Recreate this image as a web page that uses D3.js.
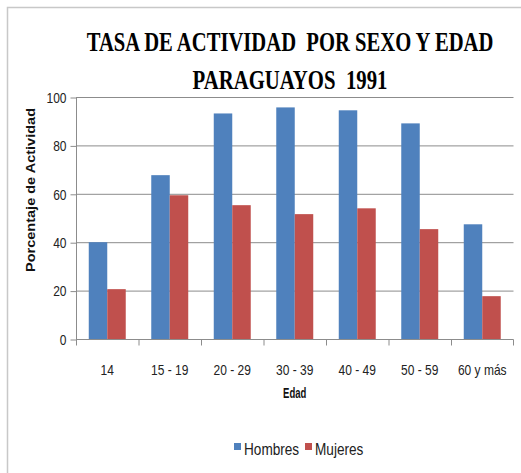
<!DOCTYPE html>
<html>
<head>
<meta charset="utf-8">
<script src="https://cdn.jsdelivr.net/npm/d3@7"></script>
<style>
  body { margin: 0; background: #fff; }
  svg { display: block; }
  text { font-family: "Liberation Sans", Arial, sans-serif; }
  .title { font-family: "Liberation Serif", "Times New Roman", serif; white-space: pre; }
</style>
</head>
<body>
<div id="chart"></div>
<script>
(function(){

  var categories = ['14', '15 - 19', '20 - 29', '30 - 39', '40 - 49', '50 - 59', '60 y más'];
  var hombres = [40.0, 67.7, 93.2, 95.7, 94.5, 89.1, 47.4];
  var mujeres = [20.6, 59.4, 55.3, 51.6, 54.0, 45.4, 17.7];
  var seriesNames = ['Hombres', 'Mujeres'];
  var yTicks = [0, 20, 40, 60, 80, 100];

  var colors = ['#4F81BD', '#C0504D'];
  var width = 521, height = 473;
  var plot = {left: 76, right: 513.5, top: 97, bottom: 339};

  // squeeze text horizontally, the source used a narrow font
  function condense(sel, factor) {
    sel.each(function() {
      var w = this.getComputedTextLength();
      d3.select(this)
        .attr('textLength', w * factor)
        .attr('lengthAdjust', 'spacingAndGlyphs');
    });
  }

  var svg = d3.select('#chart')
    .append('svg')
    .attr('width', width)
    .attr('height', height);

  // chart frame (only top and left visible)
  svg.append('rect')
    .attr('x', 7.5).attr('y', 7.5)
    .attr('width', 600).attr('height', 600)
    .attr('fill', 'none')
    .attr('stroke', '#c8c8c8')
    .attr('stroke-width', 1.5);

  var x0 = d3.scaleBand()
    .domain(categories)
    .range([plot.left, plot.right]);

  var x1 = d3.scaleBand()
    .domain(seriesNames)
    .range([0, x0.bandwidth()])
    .paddingInner(0)
    .paddingOuter(0.69);

  var y = d3.scaleLinear()
    .domain([0, 100])
    .range([plot.bottom, plot.top]);

  // gridlines
  svg.append('g')
    .selectAll('line')
    .data(yTicks.filter(function(d) {return d > 0;}))
    .enter()
    .append('line')
    .attr('x1', plot.left)
    .attr('x2', plot.right)
    .attr('y1', function(d) {return y(d) + 0.5;})
    .attr('y2', function(d) {return y(d) + 0.5;})
    .attr('stroke', '#8c8c8c')
    .attr('stroke-width', 1);

  // bars
  var rows = categories.map(function(c, i) {
    return {cat: c, values: [hombres[i], mujeres[i]]};
  });

  svg.append('g')
    .selectAll('g')
    .data(rows)
    .enter()
    .append('g')
    .attr('transform', function(d) {return 'translate(' + x0(d.cat) + ',0)';})
    .selectAll('rect')
    .data(function(d) {return d.values.map(function(v, j) {return {name: seriesNames[j], value: v, j: j};});})
    .enter()
    .append('rect')
    .attr('x', function(d) {return x1(d.name);})
    .attr('width', x1.bandwidth())
    .attr('y', function(d) {return y(d.value);})
    .attr('height', function(d) {return plot.bottom - y(d.value);})
    .attr('fill', function(d) {return colors[d.j];});

  // y axis
  var yAxis = svg.append('g')
    .attr('transform', 'translate(' + (plot.left + 0.5) + ',0.5)')
    .call(d3.axisLeft(y).tickValues(yTicks).tickSize(6).tickPadding(4));
  yAxis.attr('font-family', null).attr('font-size', null);
  yAxis.select('.domain').attr('stroke', '#8c8c8c').attr('d', 'M0,' + plot.top + 'V' + (plot.bottom + 1));
  yAxis.selectAll('.tick line').attr('stroke', '#8c8c8c');
  yAxis.selectAll('.tick text')
    .attr('font-size', 15)
    .attr('fill', '#222')
    .call(condense, 0.8);

  // x axis
  var xAxis = svg.append('g')
    .attr('transform', 'translate(0,' + (plot.bottom + 0.5) + ')');
  xAxis.append('line')
    .attr('x1', plot.left).attr('x2', plot.right)
    .attr('stroke', '#8c8c8c');
  xAxis.selectAll('line.tk')
    .data(categories.concat(['end']))
    .enter()
    .append('line')
    .attr('class', 'tk')
    .attr('x1', function(d, i) {return i < categories.length ? x0(d) + 0.5 : plot.right;})
    .attr('x2', function(d, i) {return i < categories.length ? x0(d) + 0.5 : plot.right;})
    .attr('y1', 0).attr('y2', 6)
    .attr('stroke', '#8c8c8c');
  xAxis.selectAll('text')
    .data(categories)
    .enter()
    .append('text')
    .attr('x', function(d) {return x0(d) + x0.bandwidth() / 2;})
    .attr('y', 35)
    .attr('text-anchor', 'middle')
    .attr('font-size', 15)
    .attr('fill', '#222')
    .text(function(d) {return d;})
    .call(condense, 0.8);

  // axis titles
  svg.append('text')
    .attr('x', (plot.left + plot.right) / 2)
    .attr('y', 398)
    .attr('text-anchor', 'middle')
    .attr('font-size', 14)
    .attr('font-weight', 'bold')
    .attr('fill', '#111')
    .text('Edad')
    .call(condense, 0.68);

  svg.append('text')
    .attr('transform', 'translate(35,190) rotate(-90)')
    .attr('text-anchor', 'middle')
    .attr('font-size', 13)
    .attr('font-weight', 'bold')
    .attr('fill', '#111')
    .attr('textLength', 164)
    .attr('lengthAdjust', 'spacingAndGlyphs')
    .text('Porcentaje de Actividad');

  // title, squeezed to the width it has in the source
  var title = ['TASA DE ACTIVIDAD  POR SEXO Y EDAD', 'PARAGUAYOS  1991'];
  var titleWidths = [407, 195];
  var titleCenter = 290;
  svg.append('g')
    .selectAll('text')
    .data(title)
    .enter()
    .append('text')
    .attr('class', 'title')
    .attr('x', 0)
    .attr('y', 0)
    .attr('text-anchor', 'middle')
    .attr('font-weight', 'bold')
    .attr('font-size', 28)
    .attr('fill', '#000')
    .text(function(d) {return d;})
    .each(function(d, i) {
      var s = titleWidths[i] / this.getComputedTextLength();
      d3.select(this).attr('transform',
        'translate(' + titleCenter + ',' + (i === 0 ? 51 : 89) + ') scale(' + s + ',1)');
    });

  // legend
  var legend = svg.append('g')
    .attr('transform', 'translate(234,450)');
  var legendX = [0, 71];
  var item = legend.selectAll('g')
    .data(seriesNames)
    .enter()
    .append('g')
    .attr('transform', function(d, i) {return 'translate(' + legendX[i] + ',0)';});
  item.append('rect')
    .attr('x', 0).attr('y', -7)
    .attr('width', 7).attr('height', 7)
    .attr('fill', function(d, i) {return colors[i];});
  item.append('text')
    .attr('x', 10)
    .attr('y', 5)
    .attr('font-size', 17)
    .attr('fill', '#222')
    .text(function(d) {return d;})
    .call(condense, 0.8);

})();
</script>
</body>
</html>
